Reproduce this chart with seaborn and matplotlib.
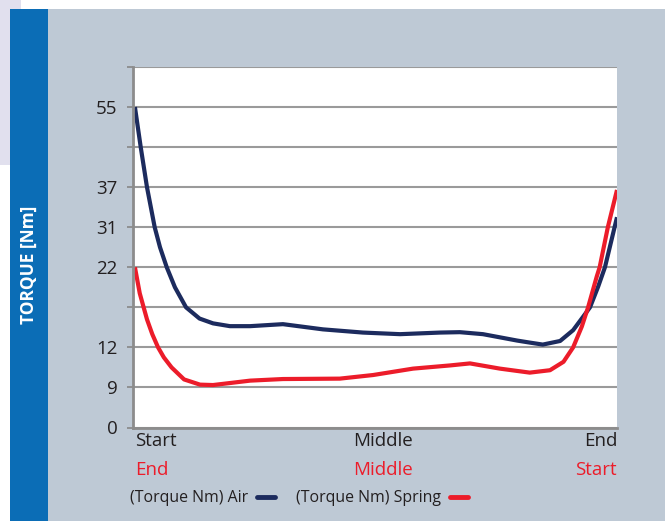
import pandas as pd
import matplotlib
matplotlib.use("Agg")
import matplotlib.pyplot as plt
from matplotlib.patches import Rectangle
from matplotlib.lines import Line2D
import seaborn as sns

# stroke position (% of travel) and torque level (index on the torque scale)
air_x = [0, 1.2, 2.5, 4.1, 5.2, 6.6, 8.3, 10.6, 13.4, 16.2, 19.7, 23.9, 30.7, 39.0,
         47.3, 55.0, 63.3, 67.4, 72.2, 79.3, 81.9, 84.6, 88.2, 90.9, 93.0, 94.4,
         96.1, 97.5, 98.5, 100]
air_y = [8.0, 7.0, 6.0, 5.0, 4.5, 4.0, 3.5, 3.0, 2.72, 2.6, 2.53, 2.53, 2.58, 2.45,
         2.37, 2.33, 2.37, 2.38, 2.33, 2.17, 2.12, 2.07, 2.16, 2.43, 2.77, 3.0,
         3.52, 4.0, 4.5, 5.25]

spring_x = [0, 1.0, 2.5, 3.6, 4.8, 6.0, 7.6, 10.2, 13.5, 16.2, 19.0, 23.9, 30.7, 42.5,
            49.4, 57.7, 65.4, 69.5, 75.7, 81.9, 86.1, 88.9, 90.9, 92.7, 94.0,
            95.8, 96.4, 98.1, 100]
spring_y = [4.0, 3.35, 2.7, 2.33, 2.0, 1.75, 1.5, 1.2, 1.07, 1.06, 1.1, 1.17, 1.21, 1.22,
            1.31, 1.47, 1.55, 1.6, 1.47, 1.37, 1.43, 1.64, 2.0, 2.52, 3.0,
            3.77, 4.0, 5.0, 5.93]

torque_labels = ["0", "9", "12", "", "22", "31", "37", "", "55", ""]
air_pos = ["Start", "Middle", "End"]
spring_pos = ["End", "Middle", "Start"]
series_names = ["(Torque Nm) Air", "(Torque Nm) Spring"]

navy = "#1c2b5e"
red = "#ec1c2a"
txt = "#231f20"

df = pd.concat([
    pd.DataFrame({"stroke": air_x, "level": air_y, "series": series_names[0]}),
    pd.DataFrame({"stroke": spring_x, "level": spring_y, "series": series_names[1]}),
])

sns.set_theme(style="white")
plt.rcParams["font.family"] = ["Open Sans", "DejaVu Sans"]

W, H = 665, 521
fig = plt.figure(figsize=(6.65, 5.21), dpi=100, facecolor="white")


def px_rect(x0, y0, x1, y1, color):
    fig.add_artist(Rectangle((x0 / W, 1 - y1 / H), (x1 - x0) / W, (y1 - y0) / H,
                             transform=fig.transFigure, color=color, zorder=-10, lw=0))


px_rect(0, 0, 21, 165, "#e1e0ee")
px_rect(48, 9, 665, 521, "#bec9d5")
px_rect(10, 9, 48, 521, "#0b6db6")

fig.text(29 / W, 1 - 265 / H, "TORQUE [Nm]", rotation=90, color="white",
         fontsize=12.5, fontweight="bold", ha="center", va="center")

ax = fig.add_axes([133 / W, 1 - 427.5 / H, (617 - 133) / W, (427.5 - 67) / H])
ax.set_facecolor("white")

sns.lineplot(data=df, x="stroke", y="level", hue="series", palette=[navy, red],
             linewidth=3, ax=ax, legend=False, sort=True, estimator=None)
for ln in ax.lines:
    ln.set_solid_capstyle("butt")
    ln.set_solid_joinstyle("round")

ax.set_xlim(-0.4, 100)
ax.set_ylim(0, 9)
ax.set_yticks(range(10))
ax.set_yticklabels(torque_labels)
ax.set_xticks([])
ax.set_xlabel("")
ax.set_ylabel("")
ax.grid(axis="y", color="#9a9a9a", lw=1.5)
ax.set_axisbelow(True)
for s in ["top", "right"]:
    ax.spines[s].set_visible(False)
for s in ["left", "bottom"]:
    ax.spines[s].set_color("#8c8c8c")
    ax.spines[s].set_linewidth(2)
ax.tick_params(axis="y", left=True, length=4, width=1.3, color="#8c8c8c",
               pad=7, labelsize=13.5, labelcolor=txt)

tr = ax.get_xaxis_transform()
xs = [0, 51.5, 100]
has = ["left", "center", "right"]
for x, ha, a, b in zip(xs, has, air_pos, spring_pos):
    ax.text(x, -0.038, a, transform=tr, ha=ha, va="center", fontsize=13.5, color=txt)
    ax.text(x, -0.119, b, transform=tr, ha=ha, va="center", fontsize=13.5, color=red)

handles = [Line2D([], [], color=navy, lw=3.5), Line2D([], [], color=red, lw=3.5)]
ax.legend(handles, series_names, loc="center left", bbox_to_anchor=(-0.035, -0.196),
          ncol=2, frameon=False, markerfirst=False, handlelength=1.15,
          handletextpad=0.55, columnspacing=1.3, fontsize=11.4, labelcolor=txt)

fig.savefig("out.png", dpi=100)
